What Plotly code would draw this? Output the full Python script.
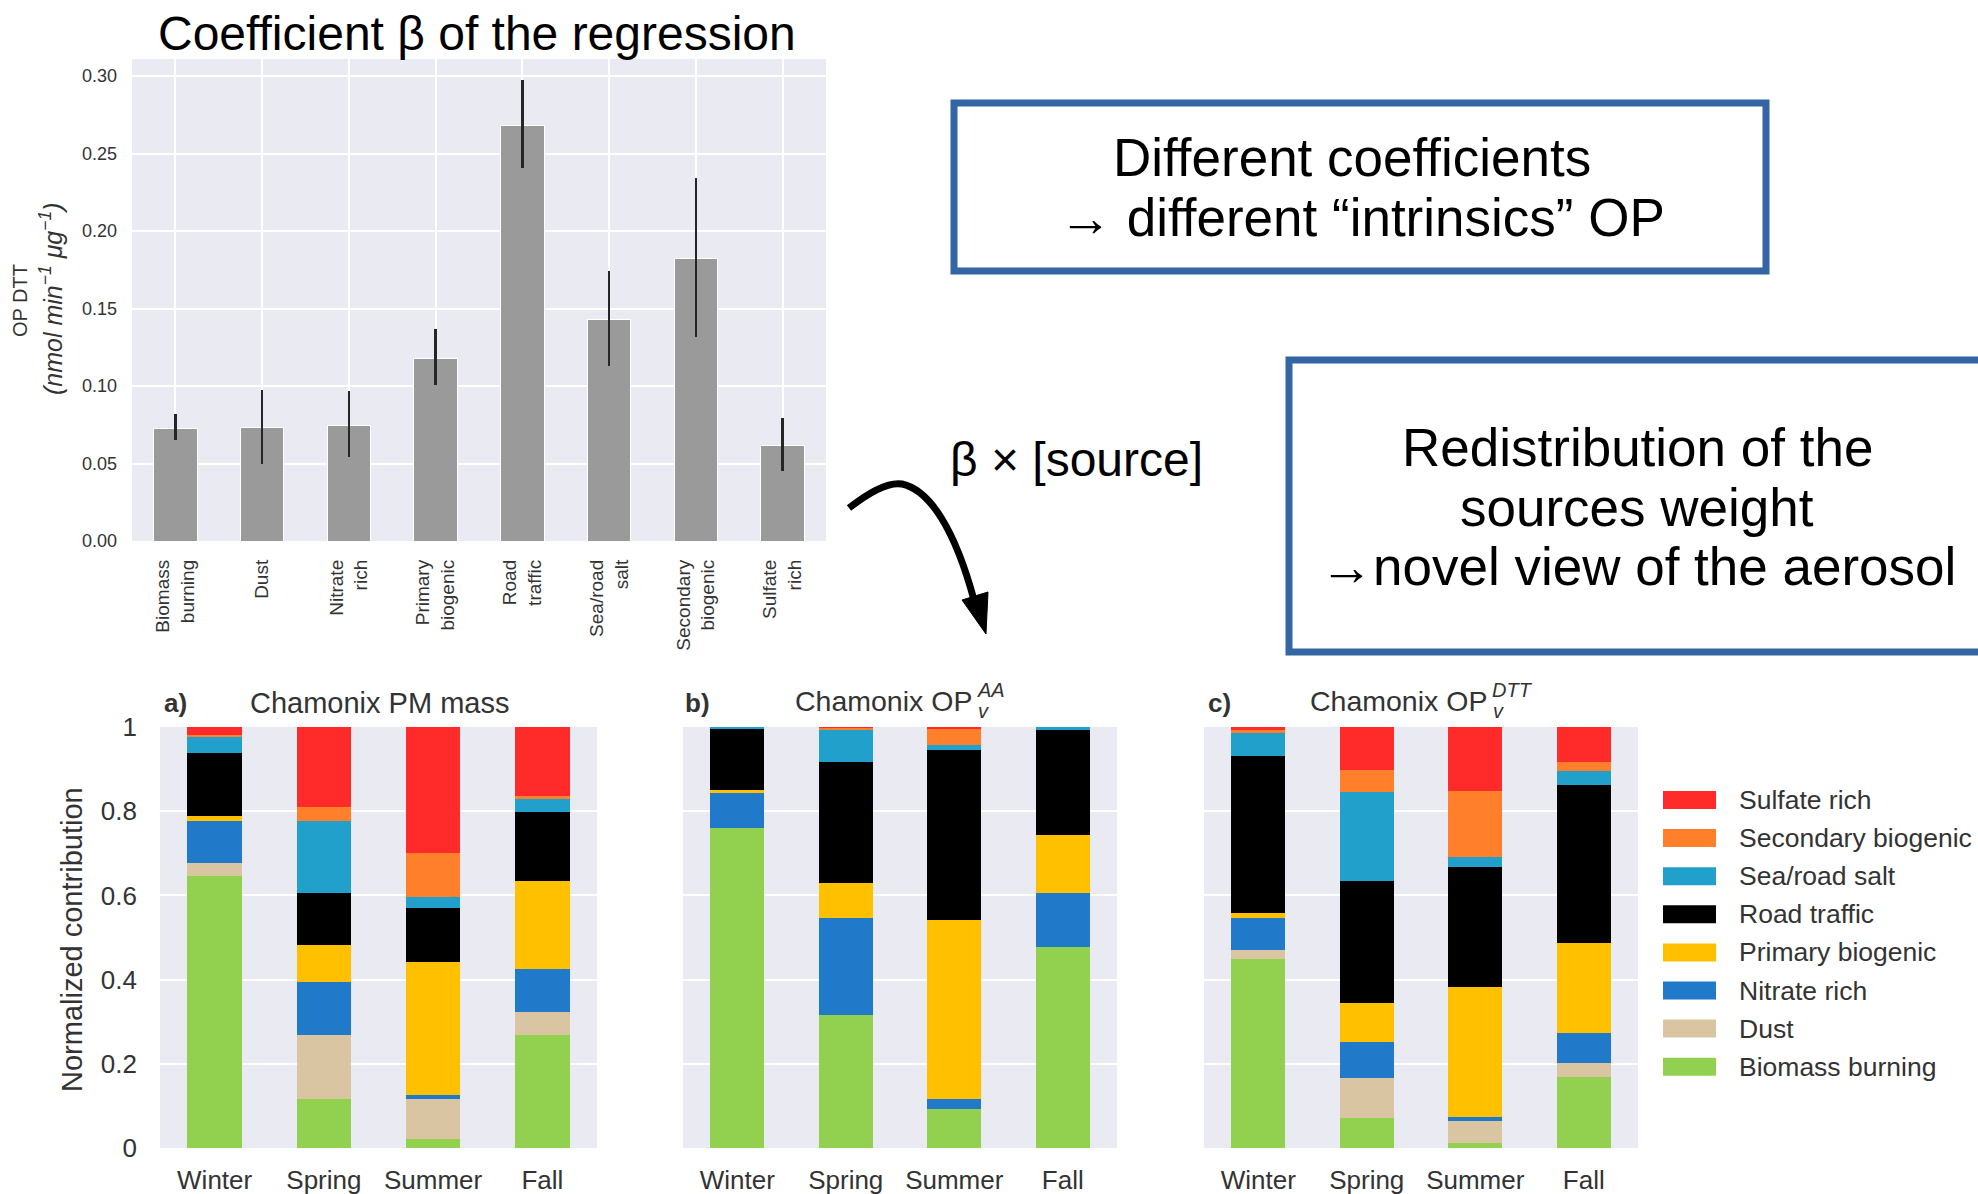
import plotly.graph_objects as go

W, H = 1978, 1194

# ---------------- Data: regression coefficients ----------------
beta_categories = ["Biomass<br>burning", "Dust", "Nitrate<br>rich", "Primary<br>biogenic",
                   "Road<br>traffic", "Sea/road<br>salt", "Secondary<br>biogenic", "Sulfate<br>rich"]
beta_values = [0.0723, 0.0731, 0.0747, 0.118, 0.2678, 0.1429, 0.1822, 0.0614]
beta_upper = [0.0818, 0.0976, 0.0968, 0.1369, 0.2973, 0.174, 0.2345, 0.0796]
beta_lower = [0.0649, 0.0499, 0.0545, 0.1009, 0.2405, 0.1132, 0.1317, 0.045]
beta_ticks = [0.0, 0.05, 0.10, 0.15, 0.20, 0.25, 0.30]

# ---------------- Data: seasonal normalized contributions ----------------
seasons = ["Winter", "Spring", "Summer", "Fall"]
sources = ["Biomass burning", "Dust", "Nitrate rich", "Primary biogenic",
           "Road traffic", "Sea/road salt", "Secondary biogenic", "Sulfate rich"]
source_colors = ["#92D050", "#DAC5A2", "#2079C9", "#FFC000",
                 "#000000", "#22A0CC", "#FF7F2A", "#FF2A2A"]

# rows follow `sources`, columns follow `seasons`
pm_mass = [
    [0.647, 0.117, 0.022, 0.269],
    [0.029, 0.151, 0.095, 0.054],
    [0.100, 0.127, 0.008, 0.102],
    [0.013, 0.087, 0.316, 0.209],
    [0.149, 0.123, 0.130, 0.164],
    [0.040, 0.171, 0.026, 0.030],
    [0.002, 0.035, 0.103, 0.008],
    [0.020, 0.189, 0.300, 0.164],
]
op_aa = [
    [0.760, 0.315, 0.092, 0.478],
    [0.000, 0.000, 0.000, 0.000],
    [0.084, 0.231, 0.024, 0.127],
    [0.006, 0.084, 0.425, 0.138],
    [0.146, 0.286, 0.405, 0.249],
    [0.004, 0.076, 0.012, 0.008],
    [0.000, 0.006, 0.037, 0.000],
    [0.000, 0.002, 0.005, 0.000],
]
op_dtt = [
    [0.449, 0.071, 0.012, 0.168],
    [0.021, 0.096, 0.053, 0.033],
    [0.076, 0.085, 0.008, 0.072],
    [0.013, 0.092, 0.309, 0.214],
    [0.371, 0.291, 0.286, 0.375],
    [0.058, 0.210, 0.024, 0.033],
    [0.004, 0.054, 0.156, 0.021],
    [0.008, 0.101, 0.152, 0.084],
]
contrib_ticks = [0, 0.2, 0.4, 0.6, 0.8, 1]
contrib_ticktext = ["0", "0.2", "0.4", "0.6", "0.8", "1"]


def px(x):
    return x / W


def py(y):
    return 1 - y / H


FONT = "Liberation Sans, Arial, sans-serif"
GREY_TXT = "#333333"
BG = "#EAEAF2"

fig = go.Figure()

# ---- top bar chart ----
err_plus = [u - v for u, v in zip(beta_upper, beta_values)]
err_minus = [v - l for v, l in zip(beta_values, beta_lower)]
fig.add_trace(go.Bar(
    x=beta_categories, y=beta_values, width=0.5,
    marker=dict(color="#9A9A9A", line=dict(color="white", width=1)),
    error_y=dict(type="data", symmetric=False, array=err_plus, arrayminus=err_minus,
                 color="#262626", thickness=2.5, width=0),
    xaxis="x", yaxis="y", showlegend=False, hoverinfo="skip"))

# ---- stacked panels ----
panels = [(pm_mass, "x2", "y2"), (op_aa, "x3", "y3"), (op_dtt, "x4", "y4")]
for data, xa, ya in panels:
    for name, color, vals in zip(sources, source_colors, data):
        fig.add_trace(go.Bar(
            x=seasons, y=vals, name=name, width=0.5,
            marker=dict(color=color, line=dict(width=0)),
            xaxis=xa, yaxis=ya, showlegend=False, hoverinfo="skip"))

top_dom_y = [py(541), py(59)]
bot_dom_y = [py(1148), py(727)]

layout = dict(
    width=W, height=H,
    margin=dict(l=0, r=0, t=0, b=0, autoexpand=False),
    paper_bgcolor="white", plot_bgcolor=BG,
    barmode="stack",
    font=dict(family=FONT, color=GREY_TXT),
    xaxis=dict(domain=[px(132), px(826)], range=[-0.5, 7.5], showgrid=True, gridcolor="white",
               gridwidth=1.5, tickangle=-90, tickfont=dict(size=19, color=GREY_TXT),
               ticklabelstandoff=14, showline=False, zeroline=False, anchor="y",
               automargin=False),
    yaxis=dict(domain=top_dom_y, range=[0, 0.311], tickvals=beta_ticks, tickformat=".2f",
               showgrid=True, gridcolor="white", gridwidth=1.5, zeroline=False,
               tickfont=dict(size=18, color=GREY_TXT), ticklabelstandoff=14, anchor="x",
               automargin=False),
)
xdoms = [[px(160), px(597)], [px(683), px(1117)], [px(1204), px(1638)]]
for i, dom in enumerate(xdoms):
    k = i + 2
    layout[f"xaxis{k}"] = dict(domain=dom, range=[-0.5, 3.5], showgrid=False, zeroline=False,
                               tickfont=dict(size=26, color=GREY_TXT), ticklabelstandoff=14,
                               anchor=f"y{k}", automargin=False)
    layout[f"yaxis{k}"] = dict(domain=bot_dom_y, range=[0, 1], tickvals=contrib_ticks,
                               ticktext=contrib_ticktext, showticklabels=(i == 0),
                               showgrid=True, gridcolor="white", gridwidth=2, zeroline=False,
                               tickfont=dict(size=26, color=GREY_TXT), ticklabelstandoff=22,
                               anchor=f"x{k}", automargin=False)
fig.update_layout(**layout)

ann = []


def add_text(text, x, y, size, color="black", xanchor="center", yanchor="middle", angle=0, align="center"):
    ann.append(dict(text=text, x=px(x), y=py(y), xref="paper", yref="paper", showarrow=False,
                    font=dict(size=size, color=color, family=FONT), xanchor=xanchor,
                    yanchor=yanchor, textangle=angle, align=align))


# titles / labels
add_text("Coefficient β of the regression", 477, 34, 48)
add_text("OP DTT", 20, 301, 20, GREY_TXT, angle=-90)
add_text("<i>(nmol min<sup>−1</sup> μg<sup>−1</sup>)</i>", 51, 299, 25, GREY_TXT, angle=-90)
add_text("Normalized contribution", 72, 940, 29, GREY_TXT, angle=-90)

add_text("<b>a)</b>", 162, 703, 26, GREY_TXT, xanchor="left")
add_text("Chamonix PM mass", 379, 703, 29, GREY_TXT)
add_text("<b>b)</b>", 683, 703, 26, GREY_TXT, xanchor="left")
add_text("Chamonix OP", 974, 701, 28.5, GREY_TXT, xanchor="right")
add_text("<i>AA</i>", 975, 690, 20, GREY_TXT, xanchor="left")
add_text("<i>v</i>", 976, 711, 20, GREY_TXT, xanchor="left")
add_text("<b>c)</b>", 1206, 703, 26, GREY_TXT, xanchor="left")
add_text("Chamonix OP", 1489, 701, 28.5, GREY_TXT, xanchor="right")
add_text("<i>DTT</i>", 1490, 690, 20, GREY_TXT, xanchor="left")
add_text("<i>v</i>", 1491, 711, 20, GREY_TXT, xanchor="left")

# boxes text
add_text("Different coefficients", 1352, 158, 53)
add_text("→ different “intrinsics” OP", 1362, 217, 53)
add_text("Redistribution of the", 1637, 447, 53)
add_text("sources weight", 1637, 507, 53)
add_text("→novel view of the aerosol", 1638, 566, 53)
add_text("β × [source]", 1076, 459, 48)

shapes = []
BLUE = "#3465A4"
shapes.append(dict(type="rect", xref="paper", yref="paper", x0=px(954), x1=px(1766), y0=py(103), y1=py(271),
                   line=dict(color=BLUE, width=7), fillcolor="rgba(0,0,0,0)"))
shapes.append(dict(type="rect", xref="paper", yref="paper", x0=px(1289), x1=px(2010), y0=py(360), y1=py(652),
                   line=dict(color=BLUE, width=7), fillcolor="rgba(0,0,0,0)"))


def pth(points_cmd):
    out = []
    for tok in points_cmd:
        if isinstance(tok, str):
            out.append(tok)
        else:
            out.append(f"{px(tok[0]):.5f},{py(tok[1]):.5f}")
    return " ".join(out)


curve = pth(["M", (849, 508), "C", (872, 490), (890, 482), (902, 484),
             "C", (930, 490), (955, 530), (974, 600)])
shapes.append(dict(type="path", xref="paper", yref="paper", path=curve,
                   line=dict(color="black", width=7)))
head = pth(["M", (986, 634), "L", (962, 600), "L", (988, 592), "Z"])
shapes.append(dict(type="path", xref="paper", yref="paper", path=head,
                   line=dict(color="black", width=1), fillcolor="black"))

# manual legend (top entry = last source)
for j, (name, color) in enumerate(zip(sources[::-1], source_colors[::-1])):
    yc = 800 + j * 38.1
    shapes.append(dict(type="rect", xref="paper", yref="paper", x0=px(1663), x1=px(1716),
                       y0=py(yc + 9), y1=py(yc - 9), line=dict(width=0), fillcolor=color))
    add_text(name, 1737, yc, 26.5, GREY_TXT, xanchor="left")

fig.update_layout(annotations=ann, shapes=shapes)

fig.write_html("out.html", config={"responsive": False, "displayModeBar": False},
               post_script="document.body.style.margin='0';")
